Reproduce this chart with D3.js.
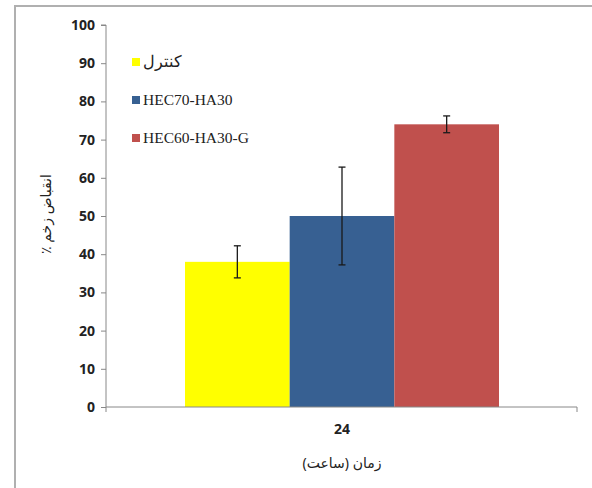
<!DOCTYPE html>
<html>
<head>
<meta charset="utf-8">
<script src="https://cdn.jsdelivr.net/npm/d3@7"></script>
<style>
  html, body { margin: 0; padding: 0; background: #fff; }
  svg { display: block; }
</style>
</head>
<body>
<svg id="chart" width="592" height="488"></svg>
<script>
// Wound contraction (%) at 24 hours, mean ± error
const groups = ["کنترل", "HEC70-HA30", "HEC60-HA30-G"];
const values = [38, 50, 74];
const errors = [4.2, 12.8, 2.2];
const colors = ["#ffff00", "#376092", "#c0504d"];
const timeLabels = ["24"];
const yTicks = [0, 10, 20, 30, 40, 50, 60, 70, 80, 90, 100];

const svg = d3.select("#chart");

// outer frame
svg.append("path")
  .attr("d", "M15,488 V6 H592")
  .attr("fill", "none")
  .attr("stroke", "#b0b0b0")
  .attr("stroke-width", 2);

const plot = { left: 106, right: 577, top: 25, bottom: 407 };

const y = d3.scaleLinear().domain([0, 100]).range([plot.bottom, plot.top]);
// the cluster of bars sits in the middle of the category band
const x0 = d3.scaleBand().domain(timeLabels).range([185, 499]).padding(0);
const x1 = d3.scaleBand().domain(groups).range([0, x0.bandwidth()]).padding(0);

// y axis
const yAxis = d3.axisLeft(y).tickValues(yTicks).tickSize(5).tickPadding(6);
const gy = svg.append("g").attr("transform", `translate(${plot.left},0)`).call(yAxis);
gy.select(".domain").attr("stroke", "#888").attr("d", `M-5,${plot.top}H0V${plot.bottom}`);
gy.selectAll(".tick line").attr("stroke", "#888");
gy.selectAll(".tick text")
  .attr("font-family", "'Open Sans', 'Liberation Sans', sans-serif")
  .attr("font-weight", "bold")
  .attr("font-size", 14)
  .attr("fill", "#222");

// bars
const bars = svg.append("g");
groups.forEach((g, i) => {
  const bx = x0(timeLabels[0]) + x1(g);
  bars.append("rect")
    .attr("x", bx)
    .attr("y", y(values[i]))
    .attr("width", x1.bandwidth())
    .attr("height", y(0) - y(values[i]))
    .attr("fill", colors[i]);
});

// error bars
const eb = svg.append("g").attr("stroke", "#1a1a1a").attr("stroke-width", 1.3);
groups.forEach((g, i) => {
  const cx = x0(timeLabels[0]) + x1(g) + x1.bandwidth() / 2;
  const yt = y(values[i] + errors[i]);
  const yb = y(values[i] - errors[i]);
  eb.append("line").attr("x1", cx).attr("x2", cx).attr("y1", yt).attr("y2", yb);
  eb.append("line").attr("x1", cx - 3.5).attr("x2", cx + 3.5).attr("y1", yt).attr("y2", yt);
  eb.append("line").attr("x1", cx - 3.5).attr("x2", cx + 3.5).attr("y1", yb).attr("y2", yb);
});

// x axis
const xAxis = d3.axisBottom(x0).tickSize(0).tickPadding(17);
const gx = svg.append("g").attr("transform", `translate(0,${plot.bottom})`).call(xAxis);
gx.select(".domain").attr("stroke", "#888").attr("d", `M${plot.left},5V0H${plot.right}V5`);
gx.selectAll(".tick text")
  .attr("font-family", "'Open Sans', 'Liberation Sans', sans-serif")
  .attr("font-weight", "bold")
  .attr("font-size", 14)
  .attr("fill", "#222");

// axis titles
svg.append("text")
  .attr("x", x0(timeLabels[0]) + x0.bandwidth() / 2)
  .attr("y", 468)
  .attr("text-anchor", "middle")
  .attr("direction", "rtl")
  .attr("font-family", "'Noto Sans', 'DejaVu Sans', sans-serif")
  .attr("font-size", 14)
  .attr("fill", "#222")
  .text("زمان (ساعت)");

svg.append("text")
  .attr("transform", `translate(51,214) rotate(-90)`)
  .attr("text-anchor", "middle")
  .attr("direction", "rtl")
  .attr("font-family", "'Noto Sans', 'DejaVu Sans', sans-serif")
  .attr("font-size", 14)
  .attr("fill", "#222")
  .text("انقباض زخم ٪");

// legend
const legend = svg.append("g");
const legendY = [62, 100, 138];
groups.forEach((g, i) => {
  legend.append("rect")
    .attr("x", 132).attr("y", legendY[i] - 4)
    .attr("width", 8).attr("height", 8)
    .attr("fill", colors[i]);
  legend.append("text")
    .attr("x", 143).attr("y", legendY[i] + 5)
    .attr("font-family", "'Liberation Serif', 'Times New Roman', serif")
    .attr("font-size", 15.5)
    .attr("fill", "#222")
    .text(g);
});
</script>
</body>
</html>
